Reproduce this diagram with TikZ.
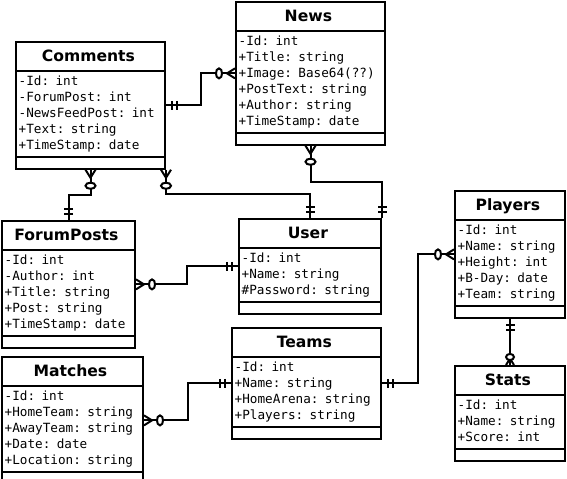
\documentclass[tikz,border=0pt]{standalone}
\usepackage{fontspec}
\setsansfont{DejaVu Sans}
\setmonofont{DejaVu Sans Mono}
\usetikzlibrary{shapes.multipart,calc,decorations.markings}

\newcommand\clstitle[1]{\hspace*{\fill}\sffamily\bfseries\fontsize{11.7}{17.25}\selectfont#1\hspace*{\fill}}
\newcommand\erone[1]{\draw (#1*6,-4.5) -- (#1*6,4.5) (#1*11,-4.5) -- (#1*11,4.5);}
\newcommand\ermany[3]{\draw (0,-#2) -- (#1*#2*1.6,0) -- (0,#2);
  \draw[fill=white] (#1*#3,-#2) .. controls (#1*#3+4,-#2) and (#1*#3+4,#2) .. (#1*#3,#2)
    .. controls (#1*#3-4,#2) and (#1*#3-4,-#2) .. cycle;}

\tikzset{
  cls/.style={draw,rectangle split,rectangle split parts=3,
    rectangle split empty part height=3pt,rectangle split empty part depth=0pt,
    anchor=north west,text width=#1,align=left,inner xsep=2pt,inner ysep=1.5pt,
    font=\ttfamily\fontsize{9.5}{12}\selectfont,
    execute at begin node=\strut,execute at end node=\strut},
  hvh/.style={to path={-| ($(\tikztostart)!.5!(\tikztotarget)$) |- (\tikztotarget) \tikztonodes}},
  vhv/.style={to path={|- ($(\tikztostart)!.5!(\tikztotarget)$) -| (\tikztotarget) \tikztonodes}},
  one at start/.style={postaction={decorate,decoration={markings,mark=at position 0 with {\erone{1}}}}},
  one at end/.style={postaction={decorate,decoration={markings,mark=at position 1 with {\erone{-1}}}}},
  many at start/.style={postaction={decorate,decoration={markings,mark=at position 0 with {\ermany{1}{5}{16}}}}},
  many at end/.style={postaction={decorate,decoration={markings,mark=at position 1 with {\ermany{-1}{5}{16}}}}},
  fewmany at end/.style={postaction={decorate,decoration={markings,mark=at position 1 with {\ermany{-1}{4}{8}}}}}
}

\begin{document}
\begin{tikzpicture}[x=0.75pt,y=-0.75pt,line width=1.5pt]
  \fill[white,use as bounding box] (0,0) rectangle (567,478);

  \node[cls=107.75pt] (news) at (235,1) {\clstitle{News}
    \nodepart{two}-Id: int\\+Title: string\\+Image: Base64(??)\\+PostText: string\\+Author: string\\+TimeStamp: date};
  \node[cls=107.75pt] (comments) at (15,41) {\clstitle{Comments}
    \nodepart{two}-Id: int\\-ForumPost: int\\-NewsFeedPost: int\\+Text: string\\+TimeStamp: date};
  \node[cls=95.75pt] (forumposts) at (1,220) {\clstitle{ForumPosts}
    \nodepart{two}-Id: int\\-Author: int\\+Title: string\\+Post: string\\+TimeStamp: date};
  \node[cls=102.5pt] (user) at (238,218) {\clstitle{User}
    \nodepart{two}-Id: int\\+Name: string\\\#Password: string};
  \node[cls=78.5pt] (players) at (454,190) {\clstitle{Players}
    \nodepart{two}-Id: int\\+Name: string\\+Height: int\\+B-Day: date\\+Team: string};
  \node[cls=107.75pt] (teams) at (231,327) {\clstitle{Teams}
    \nodepart{two}-Id: int\\+Name: string\\+HomeArena: string\\+Players: string};
  \node[cls=101.75pt] (matches) at (1,356) {\clstitle{Matches}
    \nodepart{two}-Id: int\\+HomeTeam: string\\+AwayTeam: string\\+Date: date\\+Location: string};
  \node[cls=78.5pt] (stats) at (454,365) {\clstitle{Stats}
    \nodepart{two}-Id: int\\+Name: string\\+Score: int};

  \draw[one at start,many at end] (comments.east) to[hvh] (news.west);
  \draw[many at start,one at end] (comments.south) to[vhv] (forumposts.north);
  \draw[many at start,one at end] (comments.south east) to[vhv] (user.north);
  \draw[many at start,one at end] (news.south) to[vhv] (user.north east);
  \draw[many at start,one at end] (forumposts.east) to[hvh] (user.west);
  \draw[many at start,one at end] (matches.east) to[hvh] (teams.west);
  \draw[many at start,one at end] (players.west) to[hvh] (teams.east);
  \draw[one at start,fewmany at end] (players.south) -- (stats.north);
\end{tikzpicture}
\end{document}
